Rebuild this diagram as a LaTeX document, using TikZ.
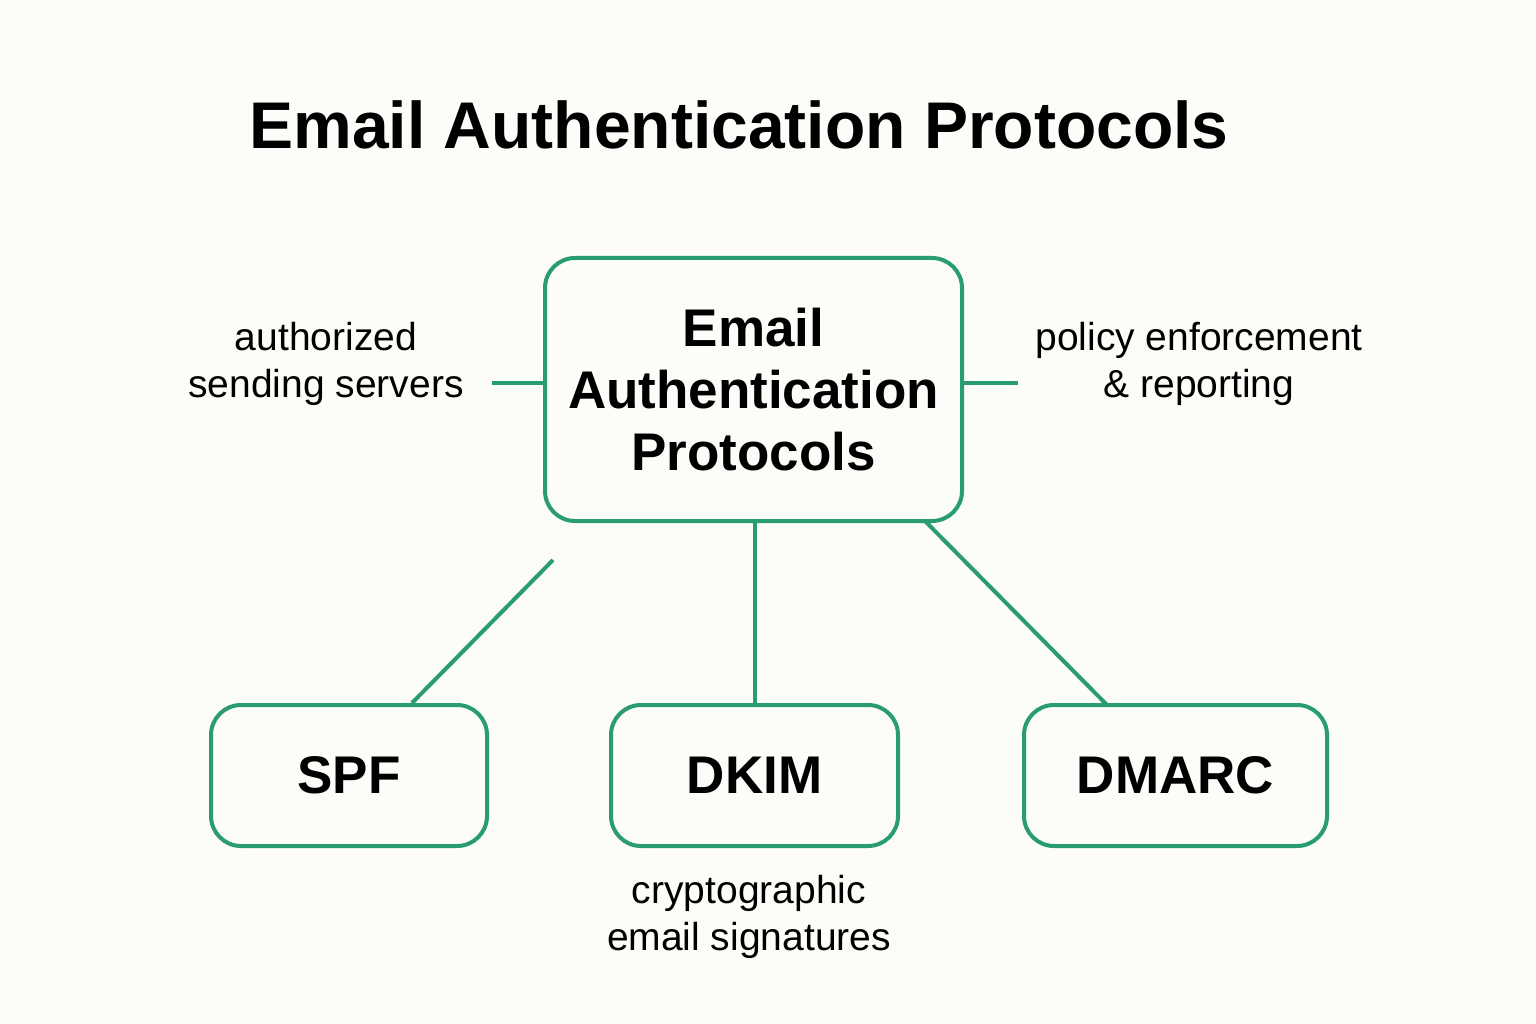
\documentclass[tikz,border=0pt]{standalone}
\usepackage{fontspec}
\setmainfont{Liberation Sans}
\definecolor{gr}{HTML}{2A9D6E}
\definecolor{bg}{HTML}{FCFCF8}
\begin{document}
\begin{tikzpicture}[x=1pt,y=-1pt,
  box/.style={draw=gr,line width=4pt,rounded corners=30pt,align=center,font=\fontsize{53}{62}\selectfont\bfseries},
  lab/.style={align=center,font=\fontsize{39}{47}\selectfont},
  con/.style={draw=gr,line width=4pt}]
\fill[bg] (0,0) rectangle (1536,1024);
\useasboundingbox (0,0) rectangle (1536,1024);
\node[font=\fontsize{66}{70}\selectfont\bfseries] (title) at (739,125) {Email Authentication Protocols};
\node[box,minimum width=417pt,minimum height=263pt] (main) at (753.5,389.5) {Email\\Authentication\\Protocols};
\node[box,minimum width=276pt,minimum height=141pt] (spf) at (349,775.5) {SPF};
\node[box,minimum width=287pt,minimum height=141pt] (dkim) at (754.5,775.5) {DKIM};
\node[box,minimum width=303pt,minimum height=141pt] (dmarc) at (1175.5,775.5) {DMARC};
\node[lab] (l1) at (326,364) {authorized\\sending servers};
\node[lab] (l2) at (1199,364) {policy enforcement\\\& reporting};
\node[lab] (l3) at (749,917) {cryptographic\\email signatures};
\coordinate (a) at (553,560);
\coordinate (lb) at (492,383);
\coordinate (rb) at (1018,383);
\draw[con] (a) -- (spf.north -| 412,0);
\draw[con] (main.south -| dkim.north) -- (dkim.north);
\draw[con] (925,521) -- (1107,705);
\draw[con] (lb) -- (main.west |- lb);
\draw[con] (main.east |- rb) -- (rb);
\end{tikzpicture}
\end{document}
